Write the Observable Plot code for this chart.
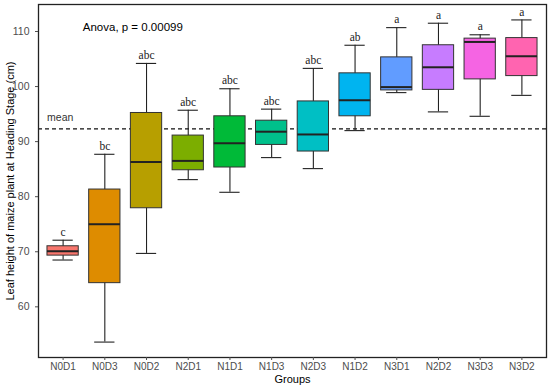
<!DOCTYPE html>
<html>
<head>
<meta charset="utf-8">
<script src="https://cdn.jsdelivr.net/npm/d3@7"></script>
<script src="https://cdn.jsdelivr.net/npm/@observablehq/plot@0.6"></script>
<style>
  html, body { margin: 0; padding: 0; background: #fff; }
</style>
</head>
<body>
<div id="chart"></div>
<script>
const groups   = ["N0D1","N0D3","N0D2","N2D1","N1D1","N1D3","N2D3","N1D2","N3D1","N2D2","N3D3","N3D2"];
const lower    = [68.5, 53.6, 69.7, 83.1, 80.8, 87.1, 85.1, 92.0, 98.9, 95.4, 94.6, 98.4];
const q1       = [69.3, 64.3, 77.9, 84.8, 85.3, 89.4, 88.2, 94.6, 99.3, 99.4, 101.3, 101.9];
const median   = [70.1, 75.0, 86.3, 86.5, 89.7, 91.8, 91.3, 97.5, 99.9, 103.5, 108.1, 105.5];
const q3       = [71.0, 81.3, 95.2, 91.1, 94.6, 93.8, 97.3, 102.4, 105.3, 107.5, 108.7, 108.8];
const upper    = [72.1, 87.7, 104.2, 95.7, 99.6, 95.9, 103.3, 107.5, 110.7, 111.5, 109.4, 112.1];
const letters  = ["c","bc","abc","abc","abc","abc","abc","ab","a","a","a","a"];
const colors   = ["#F8766D","#DE8C00","#B79F00","#7CAE00","#00BA38","#00C08B","#00BFC4","#00B4F0","#619CFF","#C77CFF","#F564E3","#FF64B0"];
const grandMean = 92.3;
const yTicks   = [60, 70, 80, 90, 100, 110];
const anovaText = "Anova, p = 0.00099";

const data = groups.map((g, i) => ({
  g, lo: lower[i], q1: q1[i], med: median[i], q3: q3[i], hi: upper[i], letter: letters[i]
}));

const chart = Plot.plot({
  width: 550,
  height: 387,
  marginLeft: 38,
  marginRight: 4,
  marginTop: 4,
  marginBottom: 30,
  style: { fontFamily: "Liberation Sans, Arial, sans-serif", background: "#fff" },
  x: { type: "band", domain: groups, paddingInner: 0.25, paddingOuter: 0.215, round: false },
  y: { domain: [50.8, 114.9] },
  color: { type: "ordinal", domain: groups, range: colors },
  marks: [
    Plot.ruleY([grandMean], { stroke: "#111", strokeWidth: 1.3, strokeDasharray: "4,3" }),
    Plot.ruleX(data, { x: "g", y1: "lo", y2: "hi", stroke: "#222", strokeWidth: 1.1 }),
    Plot.tickY(data, { x: "g", y: "hi", stroke: "#222", strokeWidth: 1.1, insetLeft: 5.5, insetRight: 5.5 }),
    Plot.tickY(data, { x: "g", y: "lo", stroke: "#222", strokeWidth: 1.1, insetLeft: 5.5, insetRight: 5.5 }),
    Plot.barY(data, { x: "g", y1: "q1", y2: "q3", fill: "g", stroke: "#333", strokeWidth: 1 }),
    Plot.tickY(data, { x: "g", y: "med", stroke: "#222", strokeWidth: 2 }),
    Plot.text(data, { x: "g", y: "hi", text: "letter", dy: -8, fontFamily: "Liberation Serif, Times New Roman, serif", fontSize: 11.5, fill: "#222" }),
    Plot.text(["mean"], { x: () => groups[0], y: () => 94.3, text: d => d, dx: -16, textAnchor: "start", fontSize: 10.5, fill: "#333" }),
    Plot.text([anovaText], { x: () => groups[1], y: () => 110.7, text: d => d, dx: 28, textAnchor: "middle", fontSize: 11.5, fill: "#000" }),
    Plot.frame({ stroke: "#222", strokeWidth: 1.3 }),
    Plot.axisY({ ticks: yTicks, tickSize: 3, fontSize: 10.5, color: "#4d4d4d", label: "Leaf height of maize plant at Heading Stage (cm)", labelAnchor: "center", labelArrow: "none", labelOffset: 32 }),
    Plot.axisX({ tickSize: 3, tickPadding: 2, fontSize: 10, color: "#4d4d4d", label: "Groups", labelAnchor: "center", labelArrow: "none", labelOffset: 25 })
  ]
});
chart.querySelectorAll("g[aria-label='y-axis label'] text, g[aria-label='x-axis label'] text").forEach(t => { t.setAttribute("fill", "#000"); t.setAttribute("font-size", "11"); });
document.getElementById("chart").appendChild(chart);
</script>
</body>
</html>
